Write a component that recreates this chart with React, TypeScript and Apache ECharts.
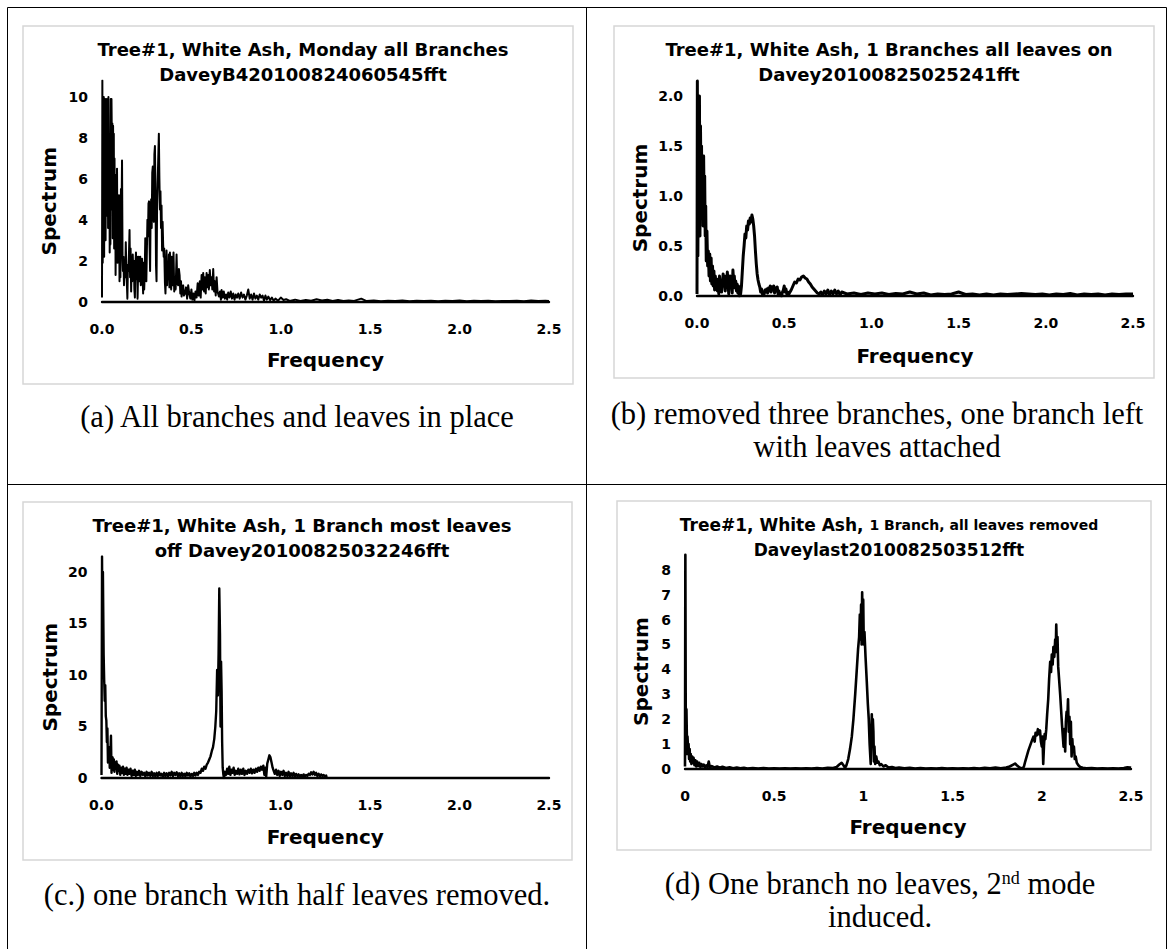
import React, { useEffect, useRef } from "react";
import * as echarts from "echarts";

// ---------- data (frequency, spectrum) ----------
const specA: [number, number][] = [
  [0, 0.2], [0.002, 10.8], [0.004, 1.9], [0.006, 9.9], [0.008, 3.5], [0.01, 10.0], [0.012, 2.2], [0.014, 9.2],
  [0.016, 5.0], [0.018, 9.9], [0.02, 3.0], [0.022, 7.5], [0.025, 4.2], [0.027, 9.9], [0.03, 6.8], [0.032, 9.0],
  [0.034, 3.6], [0.036, 10.0], [0.039, 5.8], [0.041, 8.1], [0.043, 2.4], [0.045, 6.0], [0.047, 2.8], [0.049, 9.9],
  [0.051, 4.5], [0.053, 9.9], [0.056, 7.2], [0.058, 8.7], [0.06, 3.1], [0.062, 8.6], [0.064, 5.4], [0.066, 8.2],
  [0.068, 2.6], [0.07, 7.0], [0.072, 4.1], [0.074, 6.2], [0.076, 1.3], [0.079, 5.0], [0.081, 2.3], [0.084, 6.5],
  [0.087, 1.9], [0.089, 5.2], [0.091, 2.1], [0.093, 4.0], [0.095, 5.2], [0.098, 1.0], [0.1, 2.8], [0.103, 1.2],
  [0.106, 5.5], [0.108, 3.0], [0.112, 6.9], [0.115, 2.0], [0.117, 1.5], [0.12, 2.2], [0.123, 0.8], [0.127, 2.0],
  [0.13, 1.2], [0.133, 2.9], [0.136, 1.6], [0.139, 0.9], [0.142, 0.15], [0.145, 1.8], [0.148, 1.5], [0.151, 2.4],
  [0.154, 3.5], [0.157, 1.2], [0.16, 2.6], [0.163, 0.5], [0.166, 1.9], [0.169, 1.0], [0.172, 2.3], [0.175, 1.4],
  [0.178, 2.0], [0.181, 0.6], [0.184, 0.2], [0.187, 1.8], [0.19, 2.4], [0.193, 1.1], [0.196, 2.2], [0.199, 0.15],
  [0.202, 1.5], [0.205, 2.2], [0.208, 1.0], [0.211, 1.9], [0.214, 2.2], [0.217, 0.8], [0.22, 1.6], [0.224, 2.1],
  [0.227, 1.2], [0.23, 0.4], [0.233, 1.9], [0.236, 0.6], [0.239, 1.4], [0.242, 3.1], [0.245, 1.6], [0.248, 1.0],
  [0.251, 2.5], [0.254, 4.0], [0.257, 3.2], [0.26, 4.8], [0.263, 4.9], [0.266, 2.8], [0.269, 1.5], [0.272, 4.5],
  [0.275, 5.0], [0.278, 3.6], [0.281, 6.3], [0.284, 6.6], [0.287, 4.4], [0.29, 3.9], [0.293, 7.2], [0.296, 7.6],
  [0.299, 5.5], [0.302, 1.8], [0.305, 1.0], [0.308, 4.5], [0.311, 5.7], [0.314, 6.8], [0.318, 8.2], [0.321, 6.0],
  [0.324, 4.5], [0.327, 5.4], [0.33, 3.6], [0.333, 4.7], [0.336, 2.5], [0.339, 3.9], [0.342, 2.8], [0.345, 2.2],
  [0.348, 2.6], [0.352, 0.9], [0.355, 0.4], [0.358, 1.5], [0.361, 2.5], [0.364, 0.8], [0.367, 1.7], [0.371, 1.1],
  [0.374, 2.3], [0.377, 0.7], [0.38, 2.4], [0.384, 1.0], [0.387, 0.6], [0.39, 2.2], [0.394, 0.8], [0.397, 1.5],
  [0.4, 2.4], [0.404, 0.5], [0.408, 1.2], [0.412, 0.6], [0.417, 2.3], [0.421, 0.9], [0.426, 0.8], [0.43, 1.6],
  [0.434, 1.3], [0.438, 0.4], [0.442, 1.0], [0.445, 0.25], [0.45, 0.7], [0.454, 0.8], [0.458, 0.3], [0.464, 0.4],
  [0.47, 0.7], [0.476, 0.15], [0.482, 0.8], [0.488, 0.4], [0.494, 0.15], [0.5, 0.6], [0.505, 0.1], [0.511, 0.4],
  [0.517, 0.05], [0.523, 0.5], [0.529, 0.2], [0.535, 0.9], [0.541, 0.3], [0.547, 1.0], [0.552, 0.2], [0.557, 1.3],
  [0.562, 0.6], [0.566, 1.4], [0.571, 0.5], [0.575, 1.2], [0.58, 0.4], [0.585, 1.4], [0.59, 0.7], [0.594, 1.3],
  [0.598, 0.6], [0.603, 1.55], [0.608, 0.8], [0.613, 1.2], [0.617, 0.6], [0.622, 1.6], [0.627, 0.5], [0.631, 1.0],
  [0.636, 0.3], [0.641, 1.2], [0.646, 0.5], [0.654, 0.25], [0.66, 0.5], [0.665, 0.1], [0.669, 0.57], [0.675, 0.2],
  [0.681, 0.5], [0.687, 0.15], [0.694, 0.35], [0.7, 0.1], [0.706, 0.45], [0.713, 0.2], [0.72, 0.5], [0.727, 0.15],
  [0.734, 0.4], [0.741, 0.1], [0.748, 0.35], [0.755, 0.2], [0.762, 0.4], [0.77, 0.15], [0.778, 0.45], [0.786, 0.2],
  [0.794, 0.35], [0.802, 0.1], [0.81, 0.3], [0.818, 0.6], [0.826, 0.15], [0.834, 0.35], [0.842, 0.1], [0.85, 0.4],
  [0.858, 0.15], [0.866, 0.3], [0.874, 0.1], [0.882, 0.35], [0.89, 0.2], [0.898, 0.3], [0.906, 0.05], [0.914, 0.3],
  [0.922, 0.1], [0.93, 0.25], [0.94, 0.08], [0.95, 0.2], [0.96, 0.05], [0.97, 0.15], [0.985, 0.05], [1.0, 0.2],
  [1.015, 0.08], [1.03, 0.12], [1.05, 0.04], [1.08, 0.1], [1.11, 0.03], [1.14, 0.08], [1.17, 0.05], [1.2, 0.12],
  [1.23, 0.06], [1.26, 0.1], [1.29, 0.04], [1.32, 0.08], [1.35, 0.03], [1.38, 0.06], [1.41, 0.04], [1.45, 0.15],
  [1.48, 0.03], [1.52, 0.06], [1.56, 0.02], [1.6, 0.05], [1.64, 0.03], [1.68, 0.06], [1.72, 0.02], [1.76, 0.05],
  [1.8, 0.03], [1.84, 0.05], [1.88, 0.02], [1.92, 0.05], [1.96, 0.03], [2.0, 0.06], [2.04, 0.02], [2.08, 0.05],
  [2.12, 0.03], [2.16, 0.05], [2.2, 0.02], [2.24, 0.04], [2.28, 0.03], [2.32, 0.05], [2.36, 0.02], [2.4, 0.06],
  [2.44, 0.03], [2.48, 0.05], [2.5, 0.04],
];

const specB: [number, number][] = [
  [0, 0.02], [0.002, 2.15], [0.005, 0.4], [0.008, 1.6], [0.011, 0.9], [0.014, 2.0], [0.017, 0.6], [0.02, 1.7],
  [0.023, 1.1], [0.026, 1.5], [0.029, 0.9], [0.032, 1.3], [0.035, 0.7], [0.038, 1.4], [0.041, 0.9], [0.044, 1.2],
  [0.047, 0.6], [0.05, 0.9], [0.053, 0.35], [0.057, 0.65], [0.061, 0.3], [0.065, 0.45], [0.069, 0.2], [0.073, 0.42],
  [0.077, 0.15], [0.081, 0.38], [0.085, 0.12], [0.089, 0.3], [0.093, 0.1], [0.097, 0.25], [0.101, 0.06], [0.105, 0.2],
  [0.109, 0.1], [0.113, 0.17], [0.117, 0.05], [0.121, 0.14], [0.125, 0.02], [0.129, 0.2], [0.133, 0.08], [0.137, 0.15],
  [0.141, 0.04], [0.145, 0.12], [0.15, 0.22], [0.154, 0.1], [0.158, 0.18], [0.162, 0.05], [0.166, 0.2], [0.17, 0.09],
  [0.174, 0.24], [0.178, 0.12], [0.182, 0.02], [0.186, 0.14], [0.19, 0.2], [0.194, 0.1], [0.198, 0.17], [0.202, 0.03],
  [0.206, 0.26], [0.21, 0.15], [0.214, 0.2], [0.218, 0.08], [0.222, 0.15], [0.226, 0.05], [0.23, 0.12], [0.234, 0.03],
  [0.238, 0.1], [0.242, 0.0], [0.246, 0.06], [0.25, 0.02], [0.255, 0.1], [0.26, 0.25], [0.265, 0.4], [0.27, 0.5],
  [0.275, 0.62], [0.28, 0.58], [0.285, 0.7], [0.29, 0.66], [0.295, 0.75], [0.3, 0.72], [0.305, 0.78], [0.31, 0.74],
  [0.315, 0.81], [0.32, 0.77], [0.325, 0.7], [0.33, 0.6], [0.335, 0.45], [0.34, 0.32], [0.345, 0.22], [0.35, 0.16],
  [0.355, 0.12], [0.36, 0.09], [0.365, 0.04], [0.37, 0.07], [0.375, 0.02], [0.38, 0.04], [0.385, 0.02], [0.39, 0.06],
  [0.395, 0.04], [0.4, 0.07], [0.405, 0.03], [0.41, 0.08], [0.415, 0.05], [0.42, 0.1], [0.425, 0.04], [0.43, 0.09],
  [0.435, 0.06], [0.44, 0.1], [0.445, 0.03], [0.45, 0.08], [0.455, 0.05], [0.46, 0.09], [0.465, 0.02], [0.47, 0.05],
  [0.475, 0.01], [0.48, 0.03], [0.485, 0.0], [0.49, 0.04], [0.495, 0.06], [0.5, 0.1], [0.505, 0.04], [0.51, 0.07],
  [0.515, 0.02], [0.52, 0.04], [0.525, 0.01], [0.53, 0.03], [0.54, 0.06], [0.55, 0.1], [0.56, 0.14], [0.57, 0.13],
  [0.58, 0.17], [0.59, 0.16], [0.6, 0.19], [0.61, 0.2], [0.62, 0.18], [0.63, 0.17], [0.64, 0.14], [0.65, 0.12],
  [0.66, 0.09], [0.67, 0.07], [0.68, 0.05], [0.69, 0.03], [0.7, 0.02], [0.71, 0.04], [0.72, 0.01], [0.73, 0.05],
  [0.74, 0.02], [0.75, 0.06], [0.76, 0.01], [0.77, 0.05], [0.78, 0.02], [0.79, 0.06], [0.8, 0.02], [0.81, 0.05],
  [0.82, 0.01], [0.83, 0.04], [0.86, 0.02], [0.9, 0.03], [0.94, 0.015], [0.98, 0.03], [1.02, 0.02], [1.06, 0.03],
  [1.1, 0.015], [1.14, 0.025], [1.18, 0.02], [1.22, 0.04], [1.26, 0.02], [1.3, 0.03], [1.34, 0.01], [1.38, 0.02],
  [1.42, 0.015], [1.46, 0.02], [1.5, 0.04], [1.54, 0.015], [1.58, 0.02], [1.62, 0.01], [1.66, 0.02], [1.7, 0.01],
  [1.74, 0.02], [1.78, 0.015], [1.82, 0.02], [1.86, 0.025], [1.9, 0.02], [1.94, 0.015], [1.98, 0.02], [2.02, 0.01],
  [2.06, 0.02], [2.1, 0.015], [2.14, 0.025], [2.18, 0.01], [2.22, 0.02], [2.26, 0.015], [2.3, 0.02], [2.34, 0.01],
  [2.38, 0.02], [2.42, 0.015], [2.46, 0.02], [2.5, 0.02],
];

const specC: [number, number][] = [
  [0, 0.3], [0.003, 21.5], [0.006, 14], [0.008, 20.0], [0.01, 16], [0.012, 12.0], [0.015, 9.5], [0.018, 7.5],
  [0.021, 9.0], [0.024, 6.0], [0.027, 5.6], [0.03, 3.5], [0.033, 4.8], [0.036, 1.5], [0.04, 2.6], [0.043, 3.0],
  [0.046, 1.0], [0.049, 2.2], [0.053, 4.1], [0.056, 0.5], [0.059, 1.6], [0.062, 2.0], [0.065, 0.8], [0.069, 1.8],
  [0.072, 0.6], [0.076, 1.5], [0.08, 0.9], [0.084, 1.6], [0.088, 0.4], [0.092, 1.3], [0.096, 0.7], [0.1, 1.2],
  [0.105, 0.3], [0.11, 1.0], [0.115, 0.5], [0.12, 1.1], [0.125, 0.3], [0.13, 0.9], [0.135, 0.4], [0.14, 1.0],
  [0.145, 0.3], [0.15, 0.8], [0.156, 0.4], [0.162, 0.9], [0.168, 0.2], [0.174, 0.7], [0.18, 0.3], [0.186, 0.8],
  [0.192, 0.2], [0.198, 0.6], [0.204, 0.3], [0.21, 0.7], [0.217, 0.2], [0.224, 0.6], [0.231, 0.3], [0.238, 0.5],
  [0.245, 0.15], [0.252, 0.6], [0.259, 0.25], [0.266, 0.5], [0.273, 0.2], [0.28, 0.6], [0.287, 0.2], [0.294, 0.45],
  [0.301, 0.15], [0.308, 0.5], [0.315, 0.2], [0.322, 0.55], [0.329, 0.25], [0.336, 0.4], [0.343, 0.1], [0.35, 0.5],
  [0.357, 0.2], [0.364, 0.45], [0.371, 0.15], [0.378, 0.5], [0.385, 0.25], [0.392, 0.6], [0.399, 0.2], [0.406, 0.5],
  [0.413, 0.3], [0.42, 0.55], [0.427, 0.2], [0.434, 0.45], [0.441, 0.15], [0.448, 0.5], [0.455, 0.2], [0.462, 0.4],
  [0.469, 0.15], [0.476, 0.5], [0.483, 0.25], [0.49, 0.45], [0.497, 0.15], [0.504, 0.4], [0.511, 0.2], [0.518, 0.5],
  [0.525, 0.25], [0.532, 0.5], [0.539, 0.3], [0.546, 0.6], [0.553, 0.5], [0.56, 0.9], [0.567, 0.7], [0.574, 1.1],
  [0.581, 0.9], [0.588, 1.3], [0.595, 1.5], [0.602, 1.8], [0.609, 2.1], [0.616, 2.6], [0.623, 3.0], [0.63, 3.8],
  [0.636, 5.0], [0.641, 6.5], [0.646, 10.5], [0.65, 8.0], [0.654, 12.0], [0.658, 18.4], [0.662, 14.0], [0.665, 5.0],
  [0.668, 11.3], [0.671, 8.5], [0.674, 3.5], [0.677, 1.0], [0.681, 0.3], [0.684, 0.0], [0.69, 0.6], [0.696, 0.3],
  [0.702, 0.9], [0.708, 0.4], [0.714, 1.1], [0.72, 0.3], [0.726, 0.8], [0.732, 0.5], [0.738, 1.0], [0.744, 0.3],
  [0.75, 0.7], [0.757, 0.4], [0.764, 0.9], [0.771, 0.35], [0.778, 0.8], [0.785, 0.4], [0.792, 0.9], [0.799, 0.3],
  [0.806, 0.7], [0.813, 0.4], [0.82, 0.8], [0.827, 0.5], [0.834, 0.9], [0.841, 0.45], [0.848, 0.8], [0.855, 0.5],
  [0.862, 0.9], [0.869, 0.6], [0.876, 1.0], [0.883, 0.7], [0.89, 1.1], [0.897, 0.8], [0.904, 1.2], [0.91, 0.3],
  [0.915, 1.0], [0.92, 0.1], [0.926, 1.4], [0.932, 1.8], [0.938, 2.2], [0.944, 2.0], [0.95, 1.5], [0.956, 1.0],
  [0.962, 0.7], [0.968, 0.4], [0.975, 0.8], [0.982, 0.3], [0.989, 0.7], [0.996, 0.2], [1.003, 0.6], [1.01, 0.3],
  [1.017, 0.7], [1.024, 0.2], [1.031, 0.5], [1.038, 0.2], [1.045, 0.6], [1.052, 0.15], [1.059, 0.45], [1.066, 0.2],
  [1.073, 0.5], [1.08, 0.1], [1.087, 0.4], [1.094, 0.2], [1.101, 0.35], [1.108, 0.1], [1.115, 0.3], [1.122, 0.15],
  [1.129, 0.35], [1.136, 0.1], [1.143, 0.3], [1.15, 0.2], [1.157, 0.4], [1.164, 0.3], [1.171, 0.55], [1.178, 0.35],
  [1.185, 0.6], [1.192, 0.3], [1.199, 0.5], [1.206, 0.2], [1.213, 0.4], [1.22, 0.15], [1.227, 0.35], [1.234, 0.2],
  [1.241, 0.3], [1.248, 0.1], [1.255, 0.25], [1.258, 0.0],
];

const specD: [number, number][] = [
  [0, 0.1], [0.002, 8.6], [0.004, 2.6], [0.006, 1.2], [0.008, 2.4], [0.01, 1.5], [0.012, 0.6], [0.014, 1.3],
  [0.017, 0.8], [0.02, 1.0], [0.023, 0.4], [0.026, 0.8], [0.029, 0.3], [0.032, 0.6], [0.036, 0.2], [0.04, 0.5],
  [0.044, 0.25], [0.048, 0.45], [0.053, 0.15], [0.058, 0.35], [0.063, 0.1], [0.068, 0.3], [0.074, 0.12], [0.08, 0.25],
  [0.086, 0.08], [0.092, 0.2], [0.098, 0.1], [0.105, 0.18], [0.112, 0.06], [0.119, 0.15], [0.126, 0.08], [0.133, 0.3],
  [0.14, 0.05], [0.15, 0.12], [0.165, 0.06], [0.18, 0.1], [0.195, 0.05], [0.21, 0.09], [0.23, 0.04], [0.25, 0.07],
  [0.27, 0.03], [0.29, 0.06], [0.31, 0.03], [0.33, 0.05], [0.35, 0.02], [0.38, 0.04], [0.41, 0.02], [0.44, 0.04],
  [0.47, 0.02], [0.5, 0.03], [0.53, 0.02], [0.56, 0.03], [0.59, 0.015], [0.62, 0.03], [0.65, 0.02], [0.68, 0.03],
  [0.71, 0.02], [0.74, 0.04], [0.77, 0.02], [0.8, 0.05], [0.83, 0.04], [0.85, 0.08], [0.865, 0.18], [0.878, 0.25],
  [0.888, 0.15], [0.897, 0.05], [0.905, 0.15], [0.915, 0.4], [0.925, 0.8], [0.935, 1.3], [0.944, 2.0], [0.954, 3.0],
  [0.963, 4.0], [0.97, 4.8], [0.976, 5.3], [0.98, 6.2], [0.984, 5.2], [0.987, 6.6], [0.99, 5.0], [0.993, 7.1],
  [0.996, 5.6], [0.999, 6.8], [1.002, 5.0], [1.006, 5.5], [1.012, 4.5], [1.019, 3.5], [1.025, 2.6], [1.03, 2.0],
  [1.035, 1.0], [1.038, 0.6], [1.041, 0.2], [1.044, 1.2], [1.047, 2.2], [1.05, 1.3], [1.053, 2.0], [1.056, 1.5],
  [1.059, 0.3], [1.062, 0.9], [1.066, 0.2], [1.072, 0.5], [1.078, 0.25], [1.084, 0.3], [1.092, 0.15], [1.1, 0.2],
  [1.112, 0.1], [1.125, 0.15], [1.14, 0.06], [1.16, 0.08], [1.18, 0.04], [1.2, 0.06], [1.23, 0.03], [1.26, 0.05],
  [1.29, 0.02], [1.32, 0.04], [1.35, 0.02], [1.38, 0.03], [1.41, 0.02], [1.44, 0.035], [1.47, 0.02], [1.5, 0.03],
  [1.53, 0.015], [1.56, 0.03], [1.59, 0.02], [1.62, 0.04], [1.65, 0.02], [1.68, 0.05], [1.71, 0.03], [1.74, 0.06],
  [1.77, 0.03], [1.8, 0.06], [1.82, 0.1], [1.84, 0.18], [1.85, 0.22], [1.86, 0.15], [1.875, 0.06], [1.89, 0.02],
  [1.9, 0.1], [1.907, 0.3], [1.915, 0.5], [1.925, 0.75], [1.935, 0.95], [1.945, 1.15], [1.953, 1.3], [1.96, 1.1],
  [1.965, 1.45], [1.972, 1.35], [1.978, 1.6], [1.984, 1.4], [1.99, 1.55], [1.995, 1.1], [2.0, 0.9], [2.004, 1.3],
  [2.008, 0.2], [2.012, 0.9], [2.016, 1.4], [2.02, 1.2], [2.025, 1.6], [2.03, 2.2], [2.036, 2.8], [2.041, 3.6],
  [2.047, 4.3], [2.052, 3.9], [2.056, 4.6], [2.061, 4.2], [2.065, 4.9], [2.07, 4.5], [2.075, 5.2], [2.078, 4.7],
  [2.081, 5.8], [2.084, 5.0], [2.088, 5.3], [2.092, 4.1], [2.097, 3.6], [2.103, 3.0], [2.108, 2.4], [2.113, 1.8],
  [2.118, 1.3], [2.122, 0.9], [2.127, 1.6], [2.131, 0.7], [2.135, 1.9], [2.139, 2.3], [2.143, 2.0], [2.147, 2.8],
  [2.151, 1.5], [2.155, 2.1], [2.159, 1.0], [2.163, 1.9], [2.167, 0.5], [2.171, 1.2], [2.175, 0.7], [2.18, 0.9],
  [2.185, 0.4], [2.19, 0.5], [2.196, 0.25], [2.205, 0.15], [2.215, 0.08], [2.23, 0.05], [2.25, 0.03], [2.28, 0.04],
  [2.31, 0.02], [2.34, 0.03], [2.37, 0.02], [2.4, 0.03], [2.43, 0.02], [2.46, 0.04], [2.48, 0.07], [2.495, 0.06],
  [2.5, 0.05],
];

const titleLinesA = ["Tree#1, White Ash, Monday all Branches", "DaveyB420100824060545fft"];
const titleLinesB = ["Tree#1, White Ash, 1 Branches all leaves on", "Davey20100825025241fft"];
const titleLinesC = ["Tree#1, White Ash, 1 Branch most leaves", "off Davey20100825032246fft"];
const titleBigD = "Tree#1, White Ash, ";
const titleSmallD = "1 Branch, all leaves removed";
const titleLine2D = "Daveylast2010082503512fft";

const captionA = "(a) All branches and leaves in place";
const captionB1 = "(b) removed three branches, one branch left";
const captionB2 = "with leaves attached";
const captionC = "(c.) one branch with half leaves removed.";
const captionD1 = "(d) One branch no leaves, 2";
const captionDSup = "nd";
const captionD2 = " mode";
const captionD3 = "induced.";

const xAxisName = "Frequency";
const yAxisName = "Spectrum";

// ---------- styling ----------
const SANS = '"DejaVu Sans", "Liberation Sans", Arial, sans-serif';
const SERIF = '"Liberation Serif", "Times New Roman", serif';
const CAPTION_SIZE = 30.5;

type Panel = {
  data: [number, number][];
  grid: { left: number; top: number; width: number; height: number };
  yMax: number;
  yInterval: number;
  yDecimals: number;
  xDecimals: number | null;
  lineWidth: number;
  yNameGap: number;
  xNameGap: number;
};

const panels: Panel[] = [
  { data: specA, grid: { left: 102, top: 80.6, width: 447, height: 221.1 }, yMax: 10.8, yInterval: 2, yDecimals: 0, xDecimals: 1, lineWidth: 2, yNameGap: 43, xNameGap: 48 },
  { data: specB, grid: { left: 697, top: 80, width: 436, height: 216 }, yMax: 2.16, yInterval: 0.5, yDecimals: 1, xDecimals: 1, lineWidth: 3, yNameGap: 47, xNameGap: 50 },
  { data: specC, grid: { left: 101.5, top: 556.5, width: 447.5, height: 221.5 }, yMax: 21.5, yInterval: 5, yDecimals: 0, xDecimals: 1, lineWidth: 2.4, yNameGap: 42, xNameGap: 49 },
  { data: specD, grid: { left: 685, top: 554.1, width: 446, height: 214.9 }, yMax: 8.63, yInterval: 1, yDecimals: 0, xDecimals: null, lineWidth: 2.6, yNameGap: 34, xNameGap: 48 },
];

function yFormatter(interval: number, decimals: number) {
  return (v: number) => {
    const k = v / interval;
    if (Math.abs(k - Math.round(k)) > 1e-6) return "";
    return decimals ? v.toFixed(decimals) : String(Math.round(v));
  };
}

function buildOption() {
  const titleStyle = { fontFamily: SANS, fontWeight: "bold" as const, fontSize: 18, color: "#000", lineHeight: 25 };
  const tickStyle = { fontFamily: SANS, fontWeight: "bold" as const, fontSize: 14, color: "#000" };
  const nameStyle = { fontFamily: SANS, fontWeight: "bold" as const, fontSize: 20, color: "#000" };

  const line = (x1: number, y1: number, x2: number, y2: number) => ({
    type: "line",
    shape: { x1, y1, x2, y2 },
    style: { stroke: "#000", lineWidth: 1 },
    silent: true,
  });
  const box = (x: number, y: number, width: number, height: number) => ({
    type: "rect",
    shape: { x, y, width, height },
    style: { fill: "transparent", stroke: "#d6d6d6", lineWidth: 1.5 },
    silent: true,
    z: -1,
  });
  const caption = (x: number, y: number, text: string, extra: any = {}) => ({
    type: "text",
    x,
    y,
    silent: true,
    style: {
      text,
      fontFamily: SERIF,
      fontSize: CAPTION_SIZE,
      fill: "#000",
      textAlign: "center",
      textVerticalAlign: "middle",
      align: "center",
      verticalAlign: "middle",
      ...extra,
    },
  });

  return {
    animation: false,
    backgroundColor: "#fff",
    title: [
      { text: titleLinesA.join("\n"), left: 298, top: 32, textAlign: "center", textStyle: titleStyle },
      { text: titleLinesB.join("\n"), left: 884, top: 32, textAlign: "center", textStyle: titleStyle },
      { text: titleLinesC.join("\n"), left: 297, top: 508, textAlign: "center", textStyle: titleStyle },
      {
        text: `{a|${titleBigD}}{b|${titleSmallD}}\n{a|${titleLine2D}}`,
        left: 884,
        top: 507,
        textAlign: "center",
        textStyle: {
          ...titleStyle,
          rich: {
            a: { fontFamily: SANS, fontWeight: "bold", fontSize: 17, color: "#000", lineHeight: 25 },
            b: { fontFamily: SANS, fontWeight: "bold", fontSize: 14, color: "#000", lineHeight: 25 },
          },
        },
      },
    ],
    grid: panels.map((p) => ({ ...p.grid, containLabel: false })),
    xAxis: panels.map((p, i) => ({
      type: "value",
      gridIndex: i,
      min: 0,
      max: 2.5,
      interval: 0.5,
      name: xAxisName,
      nameLocation: "middle",
      nameGap: p.xNameGap,
      nameTextStyle: nameStyle,
      axisLine: { show: true, onZero: false, lineStyle: { color: "#000", width: 2.4 } },
      axisTick: { show: false },
      splitLine: { show: false },
      axisLabel: {
        ...tickStyle,
        margin: 20,
        formatter: p.xDecimals === null ? (v: number) => String(v) : (v: number) => v.toFixed(p.xDecimals as number),
      },
    })),
    yAxis: panels.map((p, i) => ({
      type: "value",
      gridIndex: i,
      min: 0,
      max: p.yMax,
      interval: p.yInterval,
      name: yAxisName,
      nameLocation: "middle",
      nameRotate: 90,
      nameGap: p.yNameGap,
      nameTextStyle: { ...nameStyle, padding: [0, 20, 0, 0] },
      axisLine: { show: false },
      axisTick: { show: false },
      splitLine: { show: false },
      axisLabel: { ...tickStyle, margin: 14, formatter: yFormatter(p.yInterval, p.yDecimals) },
    })),
    series: panels.map((p, i) => ({
      type: "line",
      xAxisIndex: i,
      yAxisIndex: i,
      data: p.data,
      showSymbol: false,
      symbol: "none",
      silent: true,
      lineStyle: { color: "#000", width: p.lineWidth, join: "round" },
      z: 3,
    })),
    graphic: [
      // table frame
      line(7.5, 7.5, 1166.5, 7.5),
      line(7.5, 7.5, 7.5, 949),
      line(586.5, 7.5, 586.5, 949),
      line(1166.5, 7.5, 1166.5, 949),
      line(7.5, 484.5, 1166.5, 484.5),
      // chart frames
      box(23, 26, 550, 358),
      box(614, 26, 540, 352),
      box(23, 502, 549, 358),
      box(617, 501, 534, 349),
      // captions
      caption(297, 417, captionA),
      caption(877, 414, captionB1),
      caption(877, 447, captionB2),
      caption(297, 895, captionC),
      caption(880, 884, `${captionD1}{sup|${captionDSup}}${captionD2}`, {
        rich: {
          sup: { fontFamily: SERIF, fontSize: 18, fill: "#000", verticalAlign: "top", padding: [0, 0, 12, 0] },
        },
      }),
      caption(880, 917, captionD3),
    ],
  };
}

export default function App() {
  const ref = useRef<HTMLDivElement>(null);
  useEffect(() => {
    if (!ref.current) return;
    const chart = echarts.init(ref.current, null, { renderer: "svg" });
    chart.setOption(buildOption() as any);
    return () => chart.dispose();
  }, []);
  return (
    <div
      ref={ref}
      style={{ position: "absolute", left: 0, top: 0, width: 1174, height: 949, background: "#fff" }}
    />
  );
}
